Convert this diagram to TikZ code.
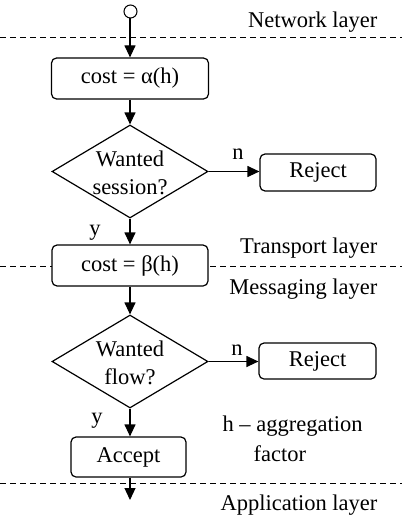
\documentclass[tikz,border=0pt]{standalone}
\usepackage{fontspec}
\setmainfont{Liberation Serif}
\usetikzlibrary{shapes.geometric,arrows.meta}
\begin{document}
\begin{tikzpicture}[x=1pt,y=-1pt,
  font=\fontsize{22.5}{27.5}\selectfont,
  line width=1.2pt,
  flow/.style={-{Triangle[length=12pt,width=11pt]}},
  stepbox/.style={draw,rounded corners=5pt,fill=white,inner sep=0pt,minimum height=41pt},
  decision/.style={draw,diamond,inner sep=0pt,minimum width=156pt,minimum height=93pt},
  layerline/.style={dashed,line width=0.9pt,dash pattern=on 6pt off 4pt},
  layername/.style={anchor=base east,inner sep=0pt},
  branch/.style={anchor=base,inner sep=0pt}]
\useasboundingbox (0,0) rectangle (402,519);

% layer boundaries
\draw[layerline] (0,37) -- (402,37);
\draw[layerline] (0,266) -- (402,266);
\draw[layerline] (0,483) -- (402,483);

% layer names
\node[layername] (netlayer) at (378,27.5) {Network layer};
\node[layername] (translayer) at (378,253) {Transport layer};
\node[layername] (msglayer) at (378,294) {Messaging layer};
\node[layername] (applayer) at (378,510) {Application layer};

% flow nodes
\node[draw,circle,inner sep=0pt,minimum size=13pt,line width=1pt] (start) at (130.5,11.5) {};
\node[stepbox,minimum width=157pt] (alpha) at (130,78.5) {cost = α(h)};
\node[decision] (session) at (130,171.5) {};
\node[align=center,inner sep=0pt] (sessiontext) at (130,173) {Wanted\\session?};
\node[stepbox,minimum width=116pt,minimum height=37pt] (reject1) at (318,172.5) {Reject};
\node[stepbox,minimum width=156pt] (beta) at (130,265.5) {cost = β(h)};
\node[decision] (flow) at (130,361.5) {};
\node[align=center,inner sep=0pt] (flowtext) at (130,363) {Wanted\\flow?};
\node[stepbox,minimum width=117pt,minimum height=36pt] (reject2) at (317.5,361) {Reject};
\node[stepbox,minimum width=115pt,minimum height=40pt] (accept) at (128.5,457) {Accept};
\coordinate (out) at (130,500);

% connectors
\draw[flow] (start.south -| alpha.north) -- (alpha.north);
\draw[flow] (alpha.south -| session.north) -- (session.north);
\draw[flow] (session.east) -- (reject1.west |- session.east);
\draw[flow] (session.south) -- (beta.north -| session.south);
\draw[flow] (beta.south -| flow.north) -- (flow.north);
\draw[flow] (flow.east) -- (reject2.west |- flow.east);
\draw[flow] (flow.south) -- (accept.north -| flow.south);
\draw[flow] (accept.south -| out) -- (out);

% branch labels
\node[branch] (n1) at (238,159) {n};
\node[branch] (y1) at (95,235) {y};
\node[branch] (n2) at (237,355) {n};
\node[branch] (y2) at (97,423) {y};

% legend
\node[anchor=base west,inner sep=0pt] (legend1) at (222,431.7) {h – aggregation};
\node[anchor=base west,inner sep=0pt] (legend2) at (253,461.7) {factor};
\end{tikzpicture}
\end{document}
